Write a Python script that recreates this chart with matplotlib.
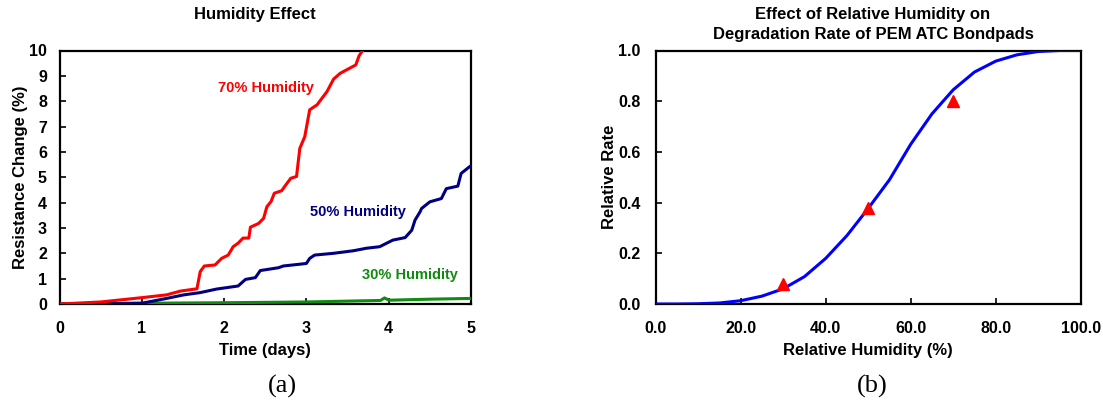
import matplotlib
matplotlib.use("Agg")
import matplotlib.pyplot as plt

plt.rcParams['font.family'] = ['Liberation Sans', 'DejaVu Sans']

# ---- Panel (a) data: resistance change (%) vs time (days)
t70 = [0.0, 0.5, 1.0, 1.3, 1.47, 1.67, 1.71, 1.76, 1.89, 1.97, 2.05, 2.11, 2.17, 2.23,
       2.3, 2.32, 2.42, 2.48, 2.52, 2.57, 2.61, 2.7, 2.75, 2.81, 2.88, 2.92, 2.98,
       3.04, 3.13, 3.19, 3.25, 3.33, 3.41, 3.49, 3.6, 3.64, 3.69]
r70 = [0.0, 0.08, 0.25, 0.36, 0.51, 0.6, 1.28, 1.5, 1.54, 1.8, 1.93, 2.26, 2.4, 2.6,
       2.6, 3.03, 3.18, 3.38, 3.84, 4.04, 4.37, 4.47, 4.7, 4.96, 5.03, 6.14, 6.6,
       7.66, 7.86, 8.12, 8.38, 8.87, 9.1, 9.24, 9.43, 9.79, 10.03]

t50 = [0.0, 0.5, 1.0, 1.3, 1.51, 1.71, 1.91, 2.17, 2.26, 2.38, 2.44, 2.66, 2.72, 2.92,
       3.0, 3.04, 3.1, 3.33, 3.57, 3.73, 3.89, 4.05, 4.2, 4.28, 4.32, 4.38, 4.4,
       4.5, 4.64, 4.7, 4.84, 4.88, 4.98, 5.0]
r50 = [0.0, 0.01, 0.03, 0.22, 0.36, 0.45, 0.59, 0.71, 0.97, 1.04, 1.32, 1.43, 1.5, 1.57,
       1.6, 1.8, 1.93, 2.0, 2.1, 2.2, 2.26, 2.52, 2.62, 2.91, 3.31, 3.63, 3.77,
       4.03, 4.16, 4.55, 4.65, 5.15, 5.41, 5.45]

t30 = [0.0, 1.0, 2.0, 3.0, 3.9, 3.95, 4.0, 4.5, 5.0]
r30 = [0.0, 0.03, 0.05, 0.08, 0.14, 0.24, 0.15, 0.19, 0.22]

xticks_a = [0, 1, 2, 3, 4, 5]
yticks_a = list(range(0, 11))

# ---- Panel (b) data: relative rate vs relative humidity
rh = [0, 5, 10, 15, 20, 25, 30, 35, 40, 45, 50, 55, 60, 65, 70, 75, 80, 85, 90, 95, 100]
rate = [0.0, 0.0, 0.001, 0.004, 0.013, 0.031, 0.06, 0.108, 0.18, 0.27, 0.377, 0.49,
        0.63, 0.75, 0.845, 0.915, 0.958, 0.983, 0.996, 1.0, 1.0]
rh_meas = [30, 50, 70]
rate_meas = [0.079, 0.38, 0.80]
xticks_b = [0, 20, 40, 60, 80, 100]
yticks_b = [0.0, 0.2, 0.4, 0.6, 0.8, 1.0]

W, H = 1103, 404
fig = plt.figure(figsize=(W / 100, H / 100), dpi=100)

def ax_rect(x0, y0, x1, y1):
    return [x0 / W, 1 - y1 / H, (x1 - x0) / W, (y1 - y0) / H]

fs_lab = 12
fs_tick = 11.5
fs_ann = 10.5

def style(ax):
    for s in ax.spines.values():
        s.set_linewidth(1.6)
        s.set_color('black')
    ax.tick_params(direction='in', length=4, width=1.2, labelsize=fs_tick)
    for lab in ax.get_xticklabels() + ax.get_yticklabels():
        lab.set_fontweight('bold')

# Panel (a)
ax1 = fig.add_axes(ax_rect(59.5, 50.5, 471, 304))
ax1.plot(t30, r30, color='#108a10', lw=2.2, zorder=3)
ax1.plot(t50, r50, color='#000080', lw=2.2, zorder=3)
ax1.plot(t70, r70, color='#ff0000', lw=2.2, zorder=3)
ax1.set_xlim(0, 5)
ax1.set_ylim(0, 10)
ax1.set_xticks(xticks_a)
ax1.set_yticks(yticks_a)
style(ax1)
ax1.tick_params(axis='x', pad=12)
ax1.tick_params(axis='y', pad=9)
ax1.set_xlabel('Time (days)', fontsize=fs_lab, fontweight='bold', labelpad=5)
ax1.set_ylabel('Resistance Change (%)', fontsize=fs_lab, fontweight='bold', labelpad=1)
ax1.text(1.93, 8.52, '70% Humidity', color='#ff0000', fontsize=fs_ann, fontweight='bold', va='center')
ax1.text(3.04, 3.63, '50% Humidity', color='#000080', fontsize=fs_ann, fontweight='bold', va='center')
ax1.text(3.68, 1.14, '30% Humidity', color='#108a10', fontsize=fs_ann, fontweight='bold', va='center')
fig.text(255 / W, 1 - 15 / H, 'Humidity Effect', ha='center', va='center', fontsize=fs_lab, fontweight='bold')
fig.text(282 / W, 1 - 386 / H, '(a)', ha='center', va='center', fontsize=19, family='Liberation Serif')

# Panel (b)
ax2 = fig.add_axes(ax_rect(655.7, 50.5, 1080.7, 304))
ax2.plot(rh, rate, color='#0000ff', lw=2.2, zorder=3)
ax2.plot(rh_meas, rate_meas, linestyle='none', marker='^', color='#ff0000', markersize=8, zorder=4)
ax2.set_xlim(0, 100)
ax2.set_ylim(0, 1.0)
ax2.set_xticks(xticks_b)
ax2.set_yticks(yticks_b)
ax2.set_xticklabels([f'{v:.1f}' for v in xticks_b])
ax2.set_yticklabels([f'{v:.1f}' for v in yticks_b])
style(ax2)
ax2.tick_params(axis='x', pad=12)
ax2.tick_params(axis='y', pad=11)
ax2.set_xlabel('Relative Humidity (%)', fontsize=fs_lab, fontweight='bold', labelpad=5)
ax2.set_ylabel('Relative Rate', fontsize=fs_lab, fontweight='bold', labelpad=1)
fig.text(873 / W, 1 - 15 / H, 'Effect of Relative Humidity on', ha='center', va='center', fontsize=fs_lab, fontweight='bold')
fig.text(873 / W, 1 - 35 / H, 'Degradation Rate of PEM ATC Bondpads', ha='center', va='center', fontsize=fs_lab, fontweight='bold')
fig.text(872 / W, 1 - 386 / H, '(b)', ha='center', va='center', fontsize=19, family='Liberation Serif')

fig.savefig('out.png', dpi=100)
